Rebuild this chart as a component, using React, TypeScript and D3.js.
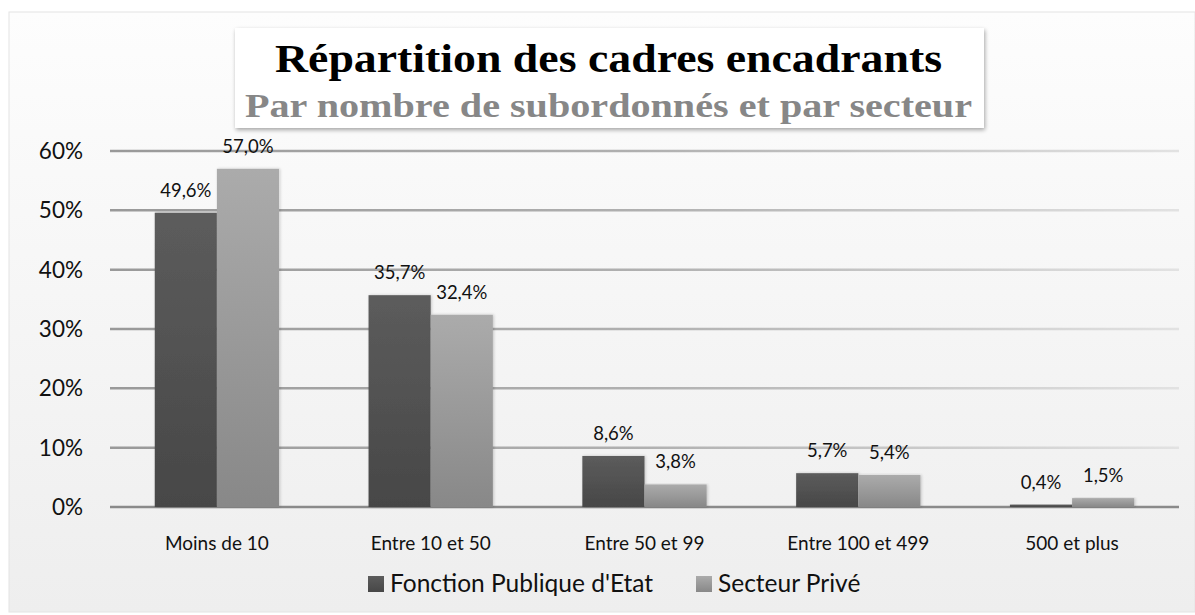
import React from "react";
import * as d3 from "d3";

const categories = ["Moins de 10", "Entre 10 et 50", "Entre 50 et 99", "Entre 100 et 499", "500 et plus"];
const series = ["Fonction Publique d'Etat", "Secteur Privé"];
const fonctionPublique = [49.6, 35.7, 8.6, 5.7, 0.4];
const secteurPrive = [57.0, 32.4, 3.8, 5.4, 1.5];
const yTicks = [0, 10, 20, 30, 40, 50, 60];

const W = 1195;
const H = 615;
const margin = { left: 110, right: 1179, top: 151, bottom: 507 };
const sans = "Lato, 'Open Sans', sans-serif";
const serif = "'Liberation Serif', 'DejaVu Serif', serif";

const fmt = (v: number) => v.toFixed(1).replace(".", ",") + "%";

export default function App() {
  const x0 = d3.scaleBand<string>().domain(categories).range([margin.left, margin.right]).paddingInner(0).paddingOuter(0);
  const x1 = d3.scaleBand<string>().domain(series).range([0, x0.bandwidth()]).paddingInner(0).paddingOuter(0.72);
  const y = d3.scaleLinear().domain([0, 60]).range([margin.bottom, margin.top]);

  const rows = categories.map((c, i) => ({
    cat: c,
    vals: [
      { s: series[0], v: fonctionPublique[i] },
      { s: series[1], v: secteurPrive[i] },
    ],
  }));

  const fills = ["url(#gDark)", "url(#gLight)"];

  return (
    <svg width={W} height={H} style={{ position: "absolute", left: 0, top: 0, display: "block" }}>
      <defs>
        <linearGradient id="gBg" x1="0" y1="0" x2="0" y2="1">
          <stop offset="0" stopColor="#fdfdfd" />
          <stop offset="1" stopColor="#eeeeee" />
        </linearGradient>
        <linearGradient id="gDark" x1="0" y1="0" x2="0" y2="1">
          <stop offset="0" stopColor="#5c5c5c" />
          <stop offset="1" stopColor="#474747" />
        </linearGradient>
        <linearGradient id="gLight" x1="0" y1="0" x2="0" y2="1">
          <stop offset="0" stopColor="#ababab" />
          <stop offset="1" stopColor="#888888" />
        </linearGradient>
        <linearGradient id="gGrid" gradientUnits="userSpaceOnUse" x1={margin.left} y1="0" x2={margin.right} y2="0">
          <stop offset="0" stopColor="#999999" />
          <stop offset="0.5" stopColor="#b0b0b0" />
          <stop offset="1" stopColor="#e2e2e2" />
        </linearGradient>
        <filter id="shadow" x="-10%" y="-10%" width="130%" height="140%">
          <feGaussianBlur in="SourceAlpha" stdDeviation="2" />
          <feOffset dx="1" dy="2" result="b" />
          <feComponentTransfer>
            <feFuncA type="linear" slope="0.35" />
          </feComponentTransfer>
          <feMerge>
            <feMergeNode />
            <feMergeNode in="SourceGraphic" />
          </feMerge>
        </filter>
        <filter id="barShadow" x="-20%" y="-5%" width="140%" height="110%">
          <feGaussianBlur in="SourceAlpha" stdDeviation="1.5" />
          <feOffset dx="1" dy="0" />
          <feComponentTransfer>
            <feFuncA type="linear" slope="0.2" />
          </feComponentTransfer>
          <feMerge>
            <feMergeNode />
            <feMergeNode in="SourceGraphic" />
          </feMerge>
        </filter>
      </defs>

      <rect x={0} y={0} width={W} height={H} fill="#ffffff" />
      <rect x={9} y={12} width={W - 9} height={600} fill="url(#gBg)" stroke="#e4e4e4" strokeWidth={1} />

      {/* Grid lines */}
      {yTicks.map((t) => (
        <line
          key={t}
          x1={margin.left}
          x2={margin.right}
          y1={y(t)}
          y2={y(t)}
          stroke={t === 0 ? "#8a8a8a" : "url(#gGrid)"}
          strokeWidth={2.5}
        />
      ))}

      {/* Y axis labels */}
      {yTicks.map((t) => (
        <text key={t} x={83} y={y(t) + 8} textAnchor="end" fontFamily={sans} fontSize={22.5} fill="#111">
          {t}%
        </text>
      ))}

      {/* Bars */}
      {rows.map((r) => (
        <g key={r.cat} transform={`translate(${x0(r.cat)},0)`}>
          {r.vals.map((d, j) => (
            <rect
              key={d.s}
              x={x1(d.s)}
              y={y(d.v)}
              width={x1.bandwidth()}
              height={y(0) - y(d.v)}
              fill={fills[j]}
              filter="url(#barShadow)"
            />
          ))}
          {r.vals.map((d) => (
            <text
              key={d.s + "l"}
              x={(x1(d.s) ?? 0) + x1.bandwidth() / 2}
              y={y(d.v) - 16}
              textAnchor="middle"
              fontFamily={sans}
              fontSize={18.5}
              fill="#111"
            >
              {fmt(d.v)}
            </text>
          ))}
          <text
            x={x0.bandwidth() / 2}
            y={550}
            textAnchor="middle"
            fontFamily={sans}
            fontSize={19}
            fill="#111"
          >
            {r.cat}
          </text>
        </g>
      ))}

      {/* Legend */}
      {series.map((s, i) => {
        const lx = i === 0 ? 368 : 696;
        return (
          <g key={s} transform={`translate(${lx},0)`}>
            <rect x={0} y={576} width={16} height={16} fill={fills[i]} />
            <text x={22} y={592} fontFamily={sans} fontSize={24.5} fill="#111">
              {s}
            </text>
          </g>
        );
      })}

      {/* Title box */}
      <rect x={235} y={28} width={749} height={100} fill="#ffffff" filter="url(#shadow)" />
      <text
        x={275}
        y={72}
        fontFamily={serif}
        fontWeight="bold"
        fontSize={41}
        fill="#000"
        textLength={667}
        lengthAdjust="spacingAndGlyphs"
      >
        Répartition des cadres encadrants
      </text>
      <text
        x={245}
        y={117}
        fontFamily={serif}
        fontWeight="bold"
        fontSize={33}
        fill="#878787"
        textLength={727}
        lengthAdjust="spacingAndGlyphs"
      >
        Par nombre de subordonnés et par secteur
      </text>
    </svg>
  );
}
